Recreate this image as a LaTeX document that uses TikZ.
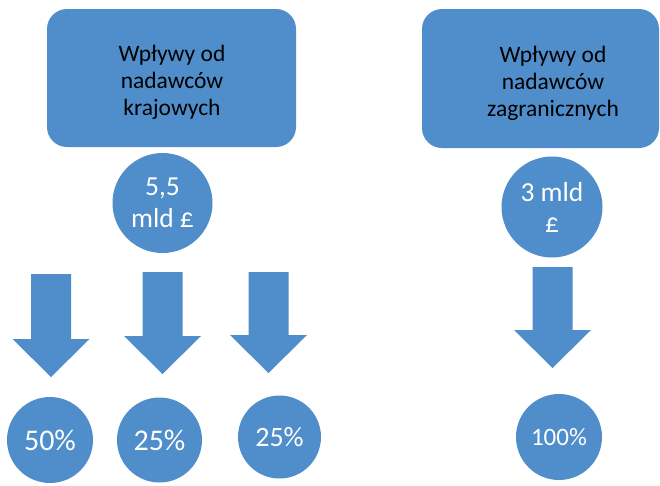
\documentclass[tikz,border=0pt]{standalone}
\usepackage{fontspec}
\setmainfont{Carlito}
\definecolor{blu}{RGB}{79,142,202}
\newcommand{\downblock}[4]{% center x, top y, head base y, tip y
  \fill[blu] (#1-20,#2) -- (#1+20,#2) -- (#1+20,#3) -- (#1+38.5,#3) -- (#1,#4)
    -- (#1-38.5,#3) -- (#1-20,#3) -- cycle;}
\begin{document}
\begin{tikzpicture}[x=1pt,y=-1pt,
  box/.style={fill=blu, rounded corners=20pt, inner sep=0pt},
  boxtext/.style={align=center, text=black, inner sep=0pt, font=\fontsize{23.5}{27}\selectfont},
  disc/.style={circle, fill=blu, text=white, align=center, inner sep=0pt},
]
\useasboundingbox (0,0) rectangle (660,485);
% boxes
\node[box, minimum width=249pt, minimum height=138pt] (kraj) at (171.5,78) {};
\node[boxtext] (krajt) at (172,82) {Wpływy od\\nadawców\\krajowych};
\node[box, minimum width=237pt, minimum height=139pt] (zagr) at (540.5,78.5) {};
\node[boxtext] (zagrt) at (553,83) {Wpływy od\\nadawców\\zagranicznych};
% amount circles
\node[disc, minimum size=100pt, font=\fontsize{27.5}{32}\selectfont] (c55) at (162.5,203) {5,5\\mld £};
\node[disc, minimum size=101pt, font=\fontsize{27.5}{31}\selectfont] (c3) at (552,207) {3 mld\\£};
% block arrows
\downblock{51}{274}{339}{377}
\downblock{162.5}{272}{336}{374}
\downblock{268.5}{272}{335}{373}
\downblock{552.5}{267}{330}{368}
% share circles
\node[disc, minimum size=86pt, font=\fontsize{30}{36}\selectfont] (p50) at (50,440) {50\%};
\node[disc, minimum size=85pt, font=\fontsize{30}{36}\selectfont] (p25a) at (159.5,440) {25\%};
\node[disc, minimum size=83pt, font=\fontsize{28}{34}\selectfont] (p25b) at (279.5,437) {25\%};
\node[disc, minimum size=86pt, font=\fontsize{25}{30}\selectfont] (p100) at (559,437) {100\%};
\end{tikzpicture}
\end{document}
